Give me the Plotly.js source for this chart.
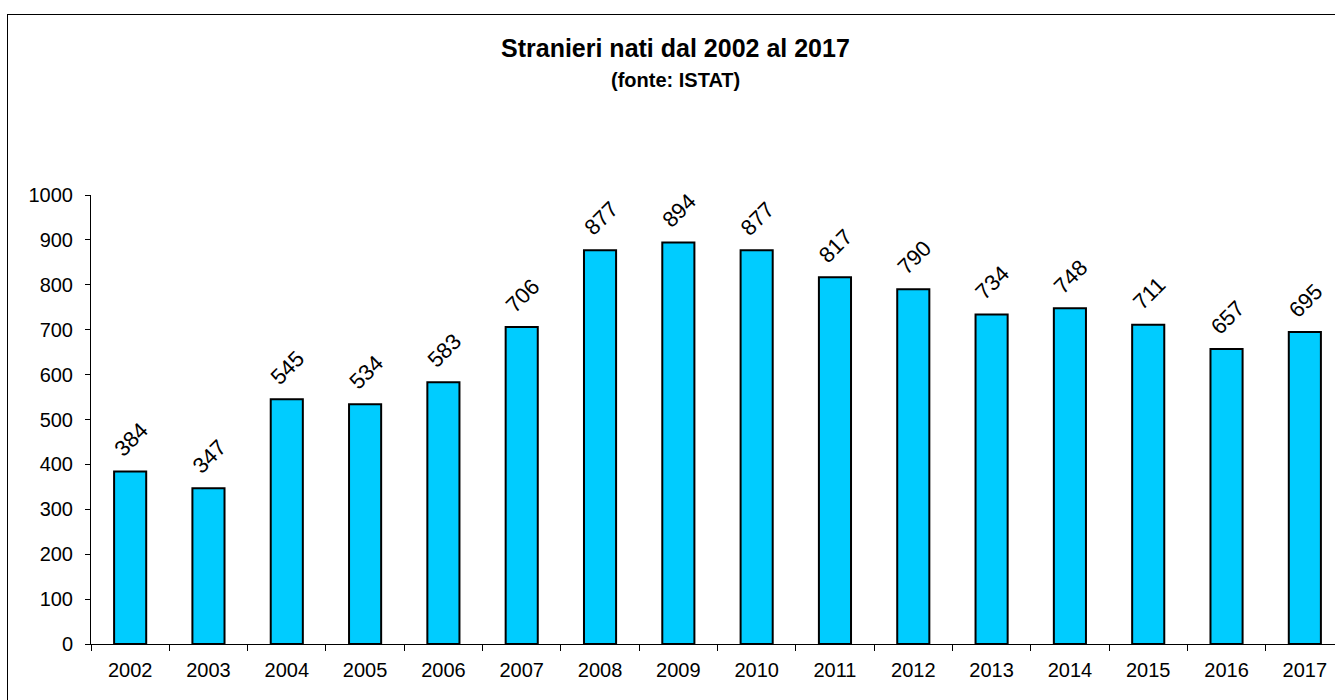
<!DOCTYPE html>
<html>
<head>
<meta charset="utf-8">
<script src="https://cdn.plot.ly/plotly-3.0.1.min.js"></script>
<style>
html,body{margin:0;padding:0;overflow:hidden;background:#fff;}
#frame{position:absolute;left:7px;top:14px;width:1400px;height:760px;border:1.5px solid #000;box-sizing:border-box;}
#chart{position:absolute;left:0;top:0;width:1345px;height:700px;}
</style>
</head>
<body>
<div id="frame"></div>
<div id="chart"></div>
<script>
const years = ["2002","2003","2004","2005","2006","2007","2008","2009","2010","2011","2012","2013","2014","2015","2016","2017"];
const values = [384,347,545,534,583,706,877,894,877,817,790,734,748,711,657,695];
const yTicks = [0,100,200,300,400,500,600,700,800,900,1000];

const font = "Liberation Sans, Arial, sans-serif";
const trace = {
  type: 'bar',
  x: years,
  y: values,
  marker: {color: '#00CCFF', line: {color: '#000', width: 2}},
  width: 0.41,
  hoverinfo: 'none'
};
// category positions are indices on a category axis
const valueLabels = years.map((yr, i) => ({
  x: i, y: values[i], xref: 'x', yref: 'y',
  text: String(values[i]), textangle: -45, showarrow: false,
  xanchor: 'center', yanchor: 'bottom', yshift: 7, xshift: 1,
  font: {family: font, size: 22, color: '#000'}
}));
const layout = {
  width: 1345, height: 700,
  margin: {l: 91, r: 1, t: 195, b: 56, pad: 0},
  paper_bgcolor: 'rgba(0,0,0,0)',
  plot_bgcolor: 'rgba(0,0,0,0)',
  showlegend: false,
  font: {family: font, color: '#000'},
  xaxis: {
    type: 'category',
    categoryarray: years, categoryorder: 'array',
    range: [-0.5, years.length - 0.5],
    showline: true, linecolor: '#000', linewidth: 1,
    ticks: 'outside', tickson: 'boundaries', ticklen: 6, tickcolor: '#000', tickwidth: 1,
    ticklabelstandoff: 8,
    tickfont: {family: font, size: 20, color: '#000'},
    showgrid: false, zeroline: false, fixedrange: true
  },
  yaxis: {
    range: [0, 1000],
    tickvals: yTicks,
    ticktext: yTicks.map(String),
    showline: true, linecolor: '#000', linewidth: 1,
    ticks: 'outside', ticklen: 5, tickcolor: '#000', tickwidth: 1,
    ticklabelstandoff: 8,
    tickfont: {family: font, size: 20, color: '#000'},
    showgrid: false, zeroline: false, fixedrange: true
  },
  annotations: [
    {text: '<b>Stranieri nati dal 2002 al 2017</b>', xref: 'paper', yref: 'paper',
     x: (675-91)/1253, y: (644-48)/449, xanchor: 'center', yanchor: 'middle', showarrow: false,
     font: {family: font, size: 25, color: '#000'}},
    {text: '<b>(fonte: ISTAT)</b>', xref: 'paper', yref: 'paper',
     x: (675-91)/1253, y: (644-80)/449, xanchor: 'center', yanchor: 'middle', showarrow: false,
     font: {family: font, size: 20, color: '#000'}}
  ].concat(valueLabels)
};
Plotly.newPlot('chart', [trace], layout, {displayModeBar: false, staticPlot: true});
</script>
</body>
</html>
